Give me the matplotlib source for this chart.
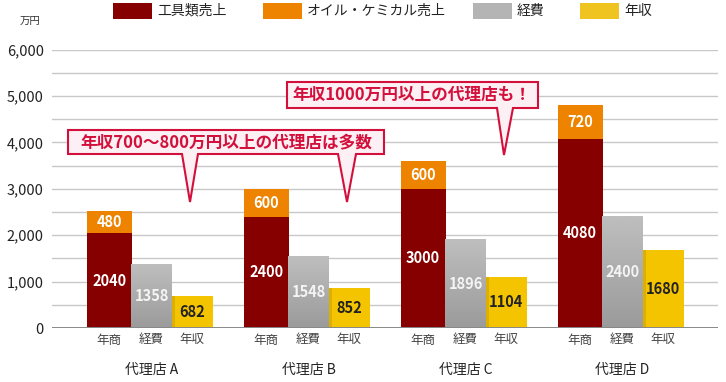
import numpy as np
import matplotlib
matplotlib.use("Agg")
import matplotlib.pyplot as plt
from matplotlib.patches import Polygon, Rectangle

plt.rcParams['font.family'] = ['Noto Sans CJK JP', 'DejaVu Sans']

# ── data ─────────────────────────────────────────────
agencies = ["代理店 A", "代理店 B", "代理店 C", "代理店 D"]
tool_sales = [2040, 2400, 3000, 4080]
oil_sales = [480, 600, 600, 720]
expenses = [1358, 1548, 1896, 2400]
income = [682, 852, 1104, 1680]
sub_labels = ["年商", "経費", "年収"]
legend_labels = ["工具類売上", "オイル・ケミカル売上", "経費", "年収"]
yticks = [0, 1000, 2000, 3000, 4000, 5000, 6000]

C_RED = "#870000"
C_ORANGE = "#ee8300"
C_GRAY = "#adadad"
C_YELLOW = "#f5c400"
C_CALL = "#d3103b"

W, H = 726, 382
fig = plt.figure(figsize=(W / 100, H / 100), dpi=100)
ax = fig.add_axes([52 / W, 1 - 328 / H, 666 / W, (328 - 49.5) / H])


def px(x, y):
    return x / W, 1 - y / H


x = np.arange(len(agencies))
ax.set_xlim(-0.634, 3.608)
ax.set_ylim(0, 6000)

for v in range(500, 6001, 500):
    ax.axhline(v, color="#c8c8c8", lw=1.0, zorder=0)
ax.axhline(0, color="#888888", lw=1.4, zorder=3)

b1 = ax.bar(x - 0.27, tool_sales, width=0.285, color=C_RED, zorder=2)
b2 = ax.bar(x - 0.27, oil_sales, bottom=tool_sales, width=0.285, color=C_ORANGE, zorder=2)
b3 = ax.bar(x, expenses, width=0.26, color="none", zorder=2)
b4 = ax.bar(x + 0.26, income, width=0.26, color=C_YELLOW, zorder=2)

# gray gradient on expense bars
grad = np.linspace(0, 1, 64).reshape(-1, 1)
gray_cmap = matplotlib.colors.LinearSegmentedColormap.from_list("g", ["#9b9b9b", "#bebebe"])
for r in b3:
    bx, bw, bh = r.get_x(), r.get_width(), r.get_height()
    ax.imshow(grad, extent=(bx, bx + bw, 0, bh), origin="lower", cmap=gray_cmap,
              aspect="auto", zorder=2)
# darker left edge on yellow bars
for r in b4:
    ax.add_patch(Rectangle((r.get_x(), 0), 0.02, r.get_height(), color="#ddb000",
                           lw=0, zorder=2.5))
ax.set_xlim(-0.634, 3.608)
ax.set_ylim(0, 6000)

lab = dict(ha="center", va="center", fontsize=10.5, fontweight="bold", zorder=4)
for i in range(len(agencies)):
    ax.text(x[i] - 0.27, tool_sales[i] / 2, str(tool_sales[i]), color="white", **lab)
    ax.text(x[i] - 0.27, tool_sales[i] + oil_sales[i] / 2, str(oil_sales[i]), color="white", **lab)
    ax.text(x[i], expenses[i] / 2, str(expenses[i]), color="#f4f4f4", **lab)
    ax.text(x[i] + 0.26, income[i] / 2, str(income[i]), color="#222222", **lab)

ax.set_yticks(yticks)
ax.set_yticklabels([f"{v:,}" for v in yticks], fontsize=10.5, color="#222222")
ax.tick_params(axis="y", length=0, pad=6)
ax.set_xticks([])
for s in ax.spines.values():
    s.set_visible(False)

trans = matplotlib.transforms.blended_transform_factory(ax.transData, fig.transFigure)
for i in range(len(agencies)):
    for off, s in zip([-0.27, 0, 0.26], sub_labels):
        ax.text(x[i] + off, px(0, 340)[1], s, transform=trans, ha="center", va="center",
                fontsize=9, color="#444444")
    ax.text(x[i], px(0, 370)[1], agencies[i], transform=trans, ha="center", va="center",
            fontsize=10, color="#222222")

fig.text(*px(30, 21), "万円", ha="center", va="center", fontsize=7.5, color="#333333")

# legend
leg_x = [113, 263, 473, 580]
leg_c = [C_RED, C_ORANGE, "#b4b4b4", "#f0c420"]
for lx, c, t in zip(leg_x, leg_c, legend_labels):
    fx, fy = px(lx, 19)
    fig.patches.append(Rectangle((fx, fy), 39 / W, 16 / H, transform=fig.transFigure,
                                 color=c, lw=0))
    fig.text(*px(lx + 44, 11), t, ha="left", va="center", fontsize=10, color="#222222")


# callouts
def callout(pts, text, tx, ty):
    fig.patches.append(Polygon([px(*p) for p in pts], closed=True, transform=fig.transFigure,
                               facecolor="#fdf0f4", edgecolor=C_CALL, lw=1.5, zorder=5))
    fig.text(*px(tx, ty), text, ha="center", va="center", fontsize=12, fontweight="bold",
             color=C_CALL, zorder=6)


callout([(68, 130), (384, 130), (384, 154), (356, 154), (347, 202), (338, 154),
         (198, 154), (190, 202), (182, 154), (68, 154)],
        "年収700〜800万円以上の代理店は多数", 226, 142)
callout([(287, 82), (538, 82), (538, 108), (513, 108), (504, 155), (497, 108), (287, 108)],
        "年収1000万円以上の代理店も！", 412, 95)

fig.savefig("out.png", dpi=100)
